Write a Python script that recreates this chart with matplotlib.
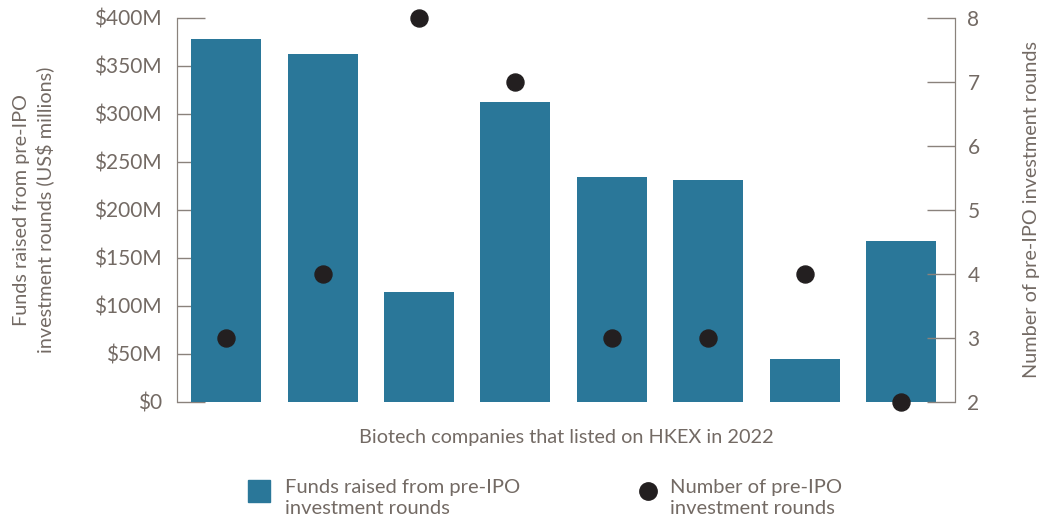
import numpy as np
import matplotlib.pyplot as plt
from matplotlib.lines import Line2D
from matplotlib.patches import Rectangle

# funds raised (US$ M) and number of pre-IPO rounds per company
funds = [378, 362, 115, 312, 234, 231, 45, 168]
rounds = [3, 4, 8, 7, 3, 3, 4, 2]
y_ticks = [0, 50, 100, 150, 200, 250, 300, 350, 400]
y_labels = ["$0", "$50M", "$100M", "$150M", "$200M", "$250M", "$300M", "$350M", "$400M"]
r_ticks = [2, 3, 4, 5, 6, 7, 8]

bar_col = "#2a7799"
dot_col = "#231f20"
txt_col = "#736a64"
axis_col = "#8a827c"

plt.rcParams['font.family'] = ['Lato', 'DejaVu Sans']

W, H = 1055, 525
fig = plt.figure(figsize=(W / 100, H / 100), dpi=100)
ax = fig.add_axes([177 / W, 1 - 402 / H, (955 - 177) / W, (402 - 18) / H])
ax2 = ax.twinx()

x = np.arange(len(funds))
ax.bar(x, funds, width=0.725, color=bar_col, zorder=3)
ax2.scatter(x, rounds, s=150, color=dot_col, zorder=4, clip_on=False)

ax.set_xlim(-0.51, 7.56)
ax.set_ylim(0, 400)
ax2.set_ylim(2, 8)

ax.set_yticks(y_ticks)
ax.set_yticklabels(y_labels)
ax2.set_yticks(r_ticks)
ax.set_xticks([])

for a in (ax, ax2):
    a.spines['top'].set_visible(False)
    a.spines['bottom'].set_visible(False)
    a.spines['left'].set_color(axis_col)
    a.spines['right'].set_color(axis_col)
    a.tick_params(axis='y', direction='in', length=20, width=1, color=axis_col,
                  labelcolor=txt_col, labelsize=15)
ax.tick_params(axis='y', pad=11)
ax2.tick_params(axis='y', pad=9)
ax.set_zorder(1)
ax2.set_zorder(2)
ax.patch.set_visible(False)

ax.set_ylabel("Funds raised from pre-IPO\ninvestment rounds (US$ millions)",
              color=txt_col, fontsize=14.3, linespacing=1.3, labelpad=29)
ax2.set_ylabel("Number of pre-IPO investment rounds", color=txt_col, fontsize=14.3, labelpad=31)

fig.text(566 / W, 1 - 438 / H, "Biotech companies that listed on HKEX in 2022",
         color=txt_col, fontsize=14.3, ha='center', va='center')

# legend, drawn by hand so the keys sit level with the first text line
fig.patches.append(Rectangle((248 / W, 1 - 502 / H), 22 / W, 22 / H,
                             transform=fig.transFigure, color=bar_col))
fig.text(285 / W, 1 - 479 / H, "Funds raised from pre-IPO\ninvestment rounds",
         color=txt_col, fontsize=14.5, ha='left', va='top', linespacing=1.3)
fig.add_artist(Line2D([648 / W], [1 - 491 / H], marker='o', ls='', color=dot_col,
                      markersize=12.5, transform=fig.transFigure))
fig.text(670 / W, 1 - 479 / H, "Number of pre-IPO\ninvestment rounds",
         color=txt_col, fontsize=14.5, ha='left', va='top', linespacing=1.3)

fig.savefig("out.png", dpi=100)
